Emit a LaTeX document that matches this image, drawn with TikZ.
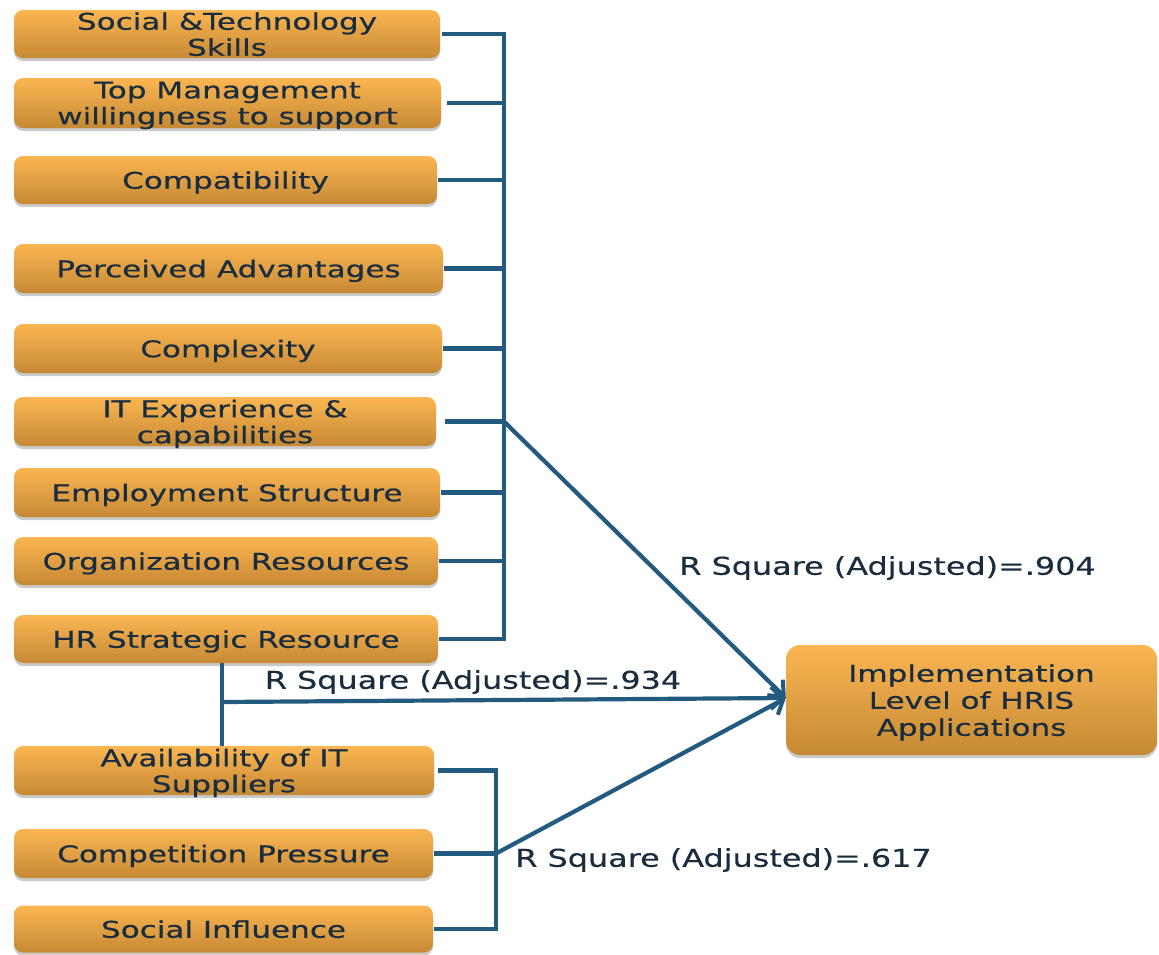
\documentclass[tikz,border=0pt]{standalone}
\usepackage{fontspec}
\setmainfont{DejaVu Sans}[FakeStretch=1.35,FakeBold=0.4]
\newfontfamily\statfont{DejaVu Sans}[FakeStretch=1.3,FakeBold=0.4]
\usetikzlibrary{arrows.meta,shadows}
\definecolor{ink}{HTML}{1A2D3F}
\definecolor{wire}{HTML}{225A80}
\definecolor{boxtop}{HTML}{FBB652}
\definecolor{boxbot}{HTML}{C68934}
\begin{document}
\begin{tikzpicture}[x=1pt,y=-1pt,
  factor/.style={draw=none, rounded corners=9pt, top color=boxtop, bottom color=boxbot,
    text=ink, align=center, inner sep=0pt, text depth=0pt, font=\fontsize{23}{26}\selectfont,
    drop shadow={shadow xshift=0pt, shadow yshift=-3pt, opacity=0.35, fill=black!60}},
  wireline/.style={draw=wire, line width=4.2pt},
  arrowline/.style={wireline, -{Straight Barb[length=12pt,width=22pt,line width=4pt]}},
  rlabel/.style={text=ink, font=\statfont\fontsize{24.5}{28}\selectfont, inner sep=0pt}]
\useasboundingbox (0,0) rectangle (1159,954);

% factor boxes
\node[factor, minimum width=426pt, minimum height=48pt] (b1) at (227,34) {Social \&Technology\\Skills};
\node[factor, minimum width=427pt, minimum height=50pt] (b2) at (227.5,103) {Top Management\\willingness to support};
\node[factor, minimum width=423pt, minimum height=48pt] (b3) at (225.5,180) {Compatibility};
\node[factor, minimum width=429pt, minimum height=49pt] (b4) at (228.5,268.5) {Perceived Advantages};
\node[factor, minimum width=428pt, minimum height=49pt] (b5) at (228,348.5) {Complexity};
\node[factor, minimum width=422pt, minimum height=49pt] (b6) at (225,421.5) {IT Experience \&\\capabilities};
\node[factor, minimum width=426pt, minimum height=49pt] (b7) at (227,492.5) {Employment Structure};
\node[factor, minimum width=424pt, minimum height=48pt] (b8) at (226,561) {Organization Resources};
\node[factor, minimum width=424pt, minimum height=48pt] (b9) at (226,639) {HR Strategic Resource};
\node[factor, minimum width=420pt, minimum height=49pt] (b10) at (224,770.5) {Availability of IT\\Suppliers};
\node[factor, minimum width=419pt, minimum height=49pt] (b11) at (223.5,853.5) {Competition Pressure};
\node[factor, minimum width=419pt, minimum height=47pt] (b12) at (223.5,929) {Social Influence};
\node[factor, minimum width=371pt, minimum height=110pt, rounded corners=14pt,
      font=\fontsize{23}{27}\selectfont] (out) at (971.5,700) {Implementation\\Level of HRIS\\Applications};

% bus positions
\coordinate (spA) at (504,0);
\coordinate (spB) at (496,0);
\coordinate (hub) at (504,421.5);
\coordinate (drop) at (222,702);

% upper group
\draw[wireline] ([xshift=2pt]b1.east) -- (b1.east -| spA) -- (b9.east -| spA) -- ([xshift=1pt]b9.east);
\foreach \b/\s in {b2/6,b3/1,b4/1,b5/1,b6/9,b7/1,b8/1}
  \draw[wireline] ([xshift=\s pt]\b.east) -- (\b.east -| spA);

% lower group
\draw[wireline] ([xshift=4pt]b10.east) -- (b10.east -| spB) -- (b12.east -| spB) -- ([xshift=1pt]b12.east);
\draw[wireline] ([xshift=1pt]b11.east) -- (b11.east -| spB) coordinate (hubB);

% stem between HR Strategic Resource and Availability of IT Suppliers
\draw[wireline] (b9.south -| drop) -- (b10.north -| drop);

% paths into the outcome
\draw[arrowline] (hub) -- ([yshift=2pt]out.west);
\draw[arrowline] (drop) -- ([yshift=2pt]out.west);
\draw[arrowline] (hubB) -- ([yshift=2pt]out.west);

% fit statistics
\node[rlabel] (r1) at (887.5,568) {R Square (Adjusted)=.904};
\node[rlabel] (r2) at (473,682) {R Square (Adjusted)=.934};
\node[rlabel] (r3) at (723.5,860) {R Square (Adjusted)=.617};
\end{tikzpicture}
\end{document}
